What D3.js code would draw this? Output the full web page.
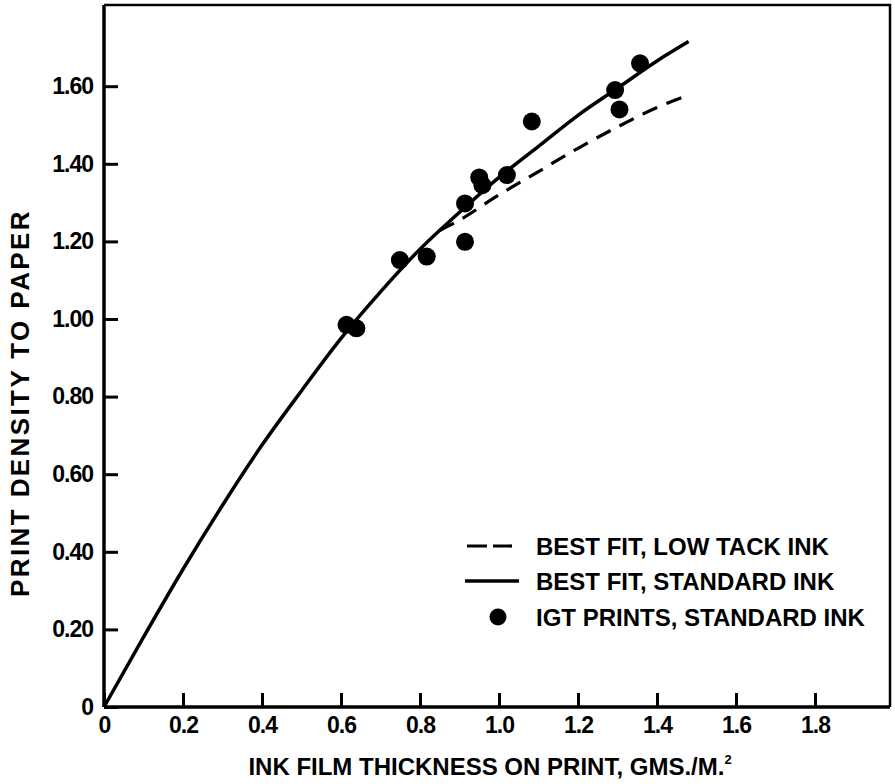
<!DOCTYPE html>
<html>
<head>
<meta charset="utf-8">
<script src="https://cdn.jsdelivr.net/npm/d3@7"></script>
<style>
  html, body { margin: 0; padding: 0; background: #fff; }
  svg { display: block; }
  text { font-family: "Liberation Sans", Arial, Helvetica, sans-serif; font-weight: bold; fill: #000; }
</style>
</head>
<body>
<svg id="chart" width="895" height="784"></svg>
<script>
// ---- data ----
const xTicks = [0, 0.2, 0.4, 0.6, 0.8, 1.0, 1.2, 1.4, 1.6, 1.8];
const xTickLabels = ["0", "0.2", "0.4", "0.6", "0.8", "1.0", "1.2", "1.4", "1.6", "1.8"];
const yTicks = [0, 0.2, 0.4, 0.6, 0.8, 1.0, 1.2, 1.4, 1.6];
const yTickLabels = ["0", "0.20", "0.40", "0.60", "0.80", "1.00", "1.20", "1.40", "1.60"];

// best fit, standard ink (solid)
const stdThickness = [0, 0.1, 0.2, 0.3, 0.4, 0.5, 0.6, 0.7, 0.8, 0.9, 1.0, 1.1, 1.2, 1.3, 1.4, 1.48];
const stdDensity   = [0, 0.18, 0.355, 0.52, 0.675, 0.815, 0.95, 1.07, 1.18, 1.275, 1.365, 1.445, 1.525, 1.595, 1.665, 1.715];

// best fit, low tack ink (dashed)
const lowThickness = [0.85, 0.9, 1.0, 1.1, 1.2, 1.3, 1.4, 1.48];
const lowDensity   = [1.228, 1.255, 1.32, 1.38, 1.44, 1.495, 1.545, 1.577];

// IGT prints, standard ink (dots)
const igtThickness = [0.614, 0.639, 0.749, 0.817, 0.914, 0.914, 0.950, 0.958, 1.020, 1.083, 1.294, 1.305, 1.357];
const igtDensity   = [0.985, 0.976, 1.152, 1.161, 1.199, 1.298, 1.365, 1.345, 1.371, 1.509, 1.590, 1.540, 1.659];

const legendLabels = ["BEST FIT, LOW TACK INK", "BEST FIT, STANDARD INK", "IGT PRINTS, STANDARD INK"];
const xTitle = "INK FILM THICKNESS ON PRINT, GMS./M.";
const yTitle = "PRINT DENSITY TO PAPER";

// ---- layout ----
const svg = d3.select("#chart");
const pLeft = 104, pRight = 890, pTop = 5, pBottom = 707;
const x = d3.scaleLinear().domain([0, (pRight - pLeft) / 395]).range([pLeft, pRight]);
const y = d3.scaleLinear().domain([0, (pBottom - pTop) / 388]).range([pBottom, pTop]);

const FS = 24, TFS = 23;

// frame (top and right)
svg.append("path")
  .attr("d", `M${pLeft},${pTop}H${pRight}V${pBottom}`)
  .attr("fill", "none").attr("stroke", "#000").attr("stroke-width", 2.5);

// x axis
const gx = svg.append("g").attr("transform", `translate(0,${pBottom})`)
  .call(d3.axisBottom(x).tickValues(xTicks).tickSize(-14).tickPadding(10)
        .tickFormat((d, i) => xTickLabels[i]));
gx.select(".domain").attr("d", `M${pLeft},0H${pRight}`).attr("stroke-width", 3.5);
gx.selectAll(".tick line").attr("stroke-width", 3);

// y axis
const gy = svg.append("g").attr("transform", `translate(${pLeft},0)`)
  .call(d3.axisLeft(y).tickValues(yTicks).tickSize(-14).tickPadding(11)
        .tickFormat((d, i) => yTickLabels[i]));
gy.select(".domain").attr("d", `M0,${pTop}V${pBottom}`).attr("stroke-width", 3.5);
gy.selectAll(".tick line").attr("stroke-width", 3);

svg.selectAll("g").attr("font-family", null).attr("font-size", null);
svg.selectAll(".tick text").style("font-size", TFS + "px").style("letter-spacing", "-1px");

// curves
const line = d3.line().x(d => x(d[0])).y(d => y(d[1])).curve(d3.curveMonotoneX);
const stdPts = stdThickness.map((t, i) => [t, stdDensity[i]]);
const lowPts = lowThickness.map((t, i) => [t, lowDensity[i]]);

svg.append("path").datum(lowPts).attr("d", line)
  .attr("fill", "none").attr("stroke", "#000").attr("stroke-width", 3.2)
  .attr("stroke-dasharray", "16,10");
svg.append("path").datum(stdPts).attr("d", line)
  .attr("fill", "none").attr("stroke", "#000").attr("stroke-width", 3.5);

// points
svg.append("g").selectAll("circle")
  .data(igtThickness.map((t, i) => [t, igtDensity[i]]))
  .join("circle")
  .attr("cx", d => x(d[0])).attr("cy", d => y(d[1])).attr("r", 9).attr("fill", "#000");

// legend
const lg = svg.append("g");
const rowsY = [546, 581, 617];
lg.append("line").attr("x1", 467).attr("x2", 512).attr("y1", rowsY[0]).attr("y2", rowsY[0])
  .attr("stroke", "#000").attr("stroke-width", 3.2).attr("stroke-dasharray", "20,6");
lg.append("line").attr("x1", 465).attr("x2", 519).attr("y1", rowsY[1]).attr("y2", rowsY[1])
  .attr("stroke", "#000").attr("stroke-width", 3.5);
lg.append("circle").attr("cx", 498).attr("cy", rowsY[2]).attr("r", 8.5).attr("fill", "#000");
lg.selectAll("text.leg").data(legendLabels).join("text").attr("class", "leg")
  .attr("x", 536).attr("y", (d, i) => rowsY[i]).attr("dy", "0.36em")
  .attr("font-size", FS).text(d => d);

// axis titles
const xt = svg.append("text").attr("x", 490).attr("y", 775).attr("text-anchor", "middle").attr("font-size", FS);
xt.append("tspan").text(xTitle);
xt.append("tspan").attr("font-size", 13).attr("dy", -11).text("2");

svg.append("text").attr("transform", `translate(29,403) rotate(-90)`)
  .attr("text-anchor", "middle").attr("font-size", 26).attr("letter-spacing", "2.4px").text(yTitle);
</script>
</body>
</html>
